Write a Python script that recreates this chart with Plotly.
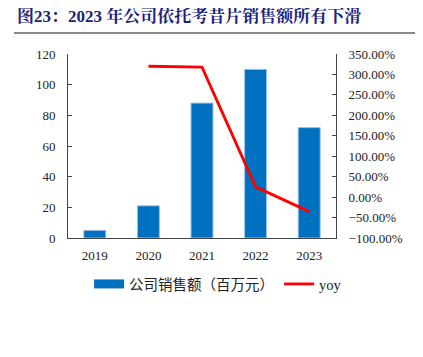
import plotly.graph_objects as go

years = ["2019", "2020", "2021", "2022", "2023"]
sales = [5, 21, 88, 110, 72]
yoy_years = ["2020", "2021", "2022", "2023"]
yoy = [3.20, 3.18, 0.25, -0.355]

serif = "Liberation Serif, Times New Roman, Noto Serif CJK SC, Noto Sans CJK SC, serif"
BLUE = "#0070C0"

fig = go.Figure()
fig.add_trace(go.Bar(
    x=years, y=sales, name="公司销售额（百万元）", showlegend=False,
    marker=dict(color=BLUE, line=dict(color="#9DC3E6", width=1)),
    width=0.41,
))
# legend sample for bars (wide blue rectangle)
fig.add_trace(go.Scatter(
    x=[None], y=[None], name="公司销售额（百万元）", mode="lines",
    line=dict(color=BLUE, width=9),
))
fig.add_trace(go.Scatter(
    x=yoy_years, y=yoy, name="yoy", mode="lines", yaxis="y2",
    line=dict(color="#FF0000", width=2.8),
))

# page body has an 8px margin; shrink the figure to compensate
fig.update_layout(
    width=415, height=349,
    margin=dict(l=60, r=87, t=46, b=119),
    plot_bgcolor="white", paper_bgcolor="white",
    font=dict(family=serif, size=13, color="#222"),
    showlegend=True,
    legend=dict(orientation="h", x=0.56, xanchor="center", y=-0.25, yanchor="middle",
                font=dict(size=14.5, family="Liberation Serif, Noto Sans CJK SC"),
                tracegroupgap=0),
    xaxis=dict(showline=True, linecolor="#444", linewidth=1, ticks="",
               tickfont=dict(size=13), showgrid=False, ticklabelstandoff=5),
    yaxis=dict(range=[0, 120], dtick=20, showline=True, linecolor="#444", linewidth=1,
               ticks="inside", ticklen=4, tickcolor="#444", showgrid=False,
               tickfont=dict(size=13), zeroline=False, ticklabelstandoff=9),
    yaxis2=dict(range=[-1, 3.5], dtick=0.5, overlaying="y", side="right",
                tickformat=".2%", showline=True, linecolor="#444", linewidth=1,
                ticks="inside", ticklen=4, tickcolor="#444", showgrid=False,
                tickfont=dict(size=13), zeroline=False, ticklabelstandoff=9),
)

W = 415 - 60 - 87
H = 349 - 46 - 119
fig.add_annotation(text="<b>图23：2023 年公司依托考昔片销售额所有下滑</b>",
                   xref="paper", yref="paper", x=-53 / W, y=1 + 38 / H,
                   xanchor="left", yanchor="middle", showarrow=False,
                   font=dict(size=17, color="#1A237E",
                             family="Liberation Serif, Noto Serif CJK SC, Noto Sans CJK SC"))
fig.add_shape(type="line", xref="paper", yref="paper", x0=-54 / W, x1=(415 - 60) / W,
              y0=1 + 21 / H, y1=1 + 21 / H, line=dict(color="#8a8a8a", width=2))

fig.write_html("out.html")
